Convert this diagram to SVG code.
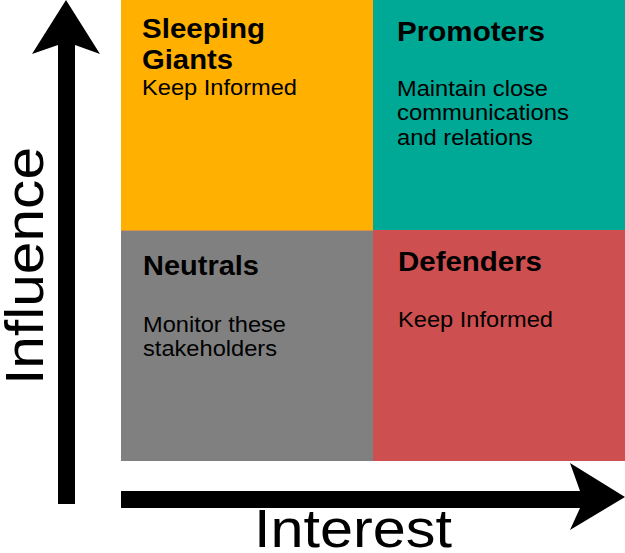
<svg xmlns="http://www.w3.org/2000/svg" width="625" height="553" viewBox="0 0 625 553">
<style>
text{font-family:"Liberation Sans",Arial,sans-serif;fill:#000}
.t{font-weight:bold;font-size:28px}
.b{font-size:21.5px}
.ax{font-size:54px}
.arrow{fill:#000}
</style>
<rect x="0" y="0" width="625" height="553" fill="#fff"/>
<g id="sleeping-giants">
<rect x="121" y="0" width="252" height="230" fill="#FFB000"/>
<text class="t" x="142" y="38" textLength="123" lengthAdjust="spacingAndGlyphs">Sleeping</text>
<text class="t" x="142" y="69" textLength="91" lengthAdjust="spacingAndGlyphs">Giants</text>
<text class="b" x="142" y="95" textLength="155" lengthAdjust="spacingAndGlyphs">Keep Informed</text>
</g>
<g id="promoters">
<rect x="373" y="0" width="252" height="230" fill="#00A896"/>
<text class="t" x="397" y="41" textLength="148" lengthAdjust="spacingAndGlyphs">Promoters</text>
<text class="b" x="397" y="96" textLength="151" lengthAdjust="spacingAndGlyphs">Maintain close</text>
<text class="b" x="397" y="120" textLength="172" lengthAdjust="spacingAndGlyphs">communications</text>
<text class="b" x="397" y="145" textLength="136" lengthAdjust="spacingAndGlyphs">and relations</text>
</g>
<g id="neutrals">
<rect x="121" y="230" width="252" height="231" fill="#808080"/>
<line x1="121" y1="230.5" x2="373" y2="230.5" stroke="#D9913F" stroke-width="1"/>
<text class="t" x="143" y="275" textLength="116" lengthAdjust="spacingAndGlyphs">Neutrals</text>
<text class="b" x="143" y="332" textLength="143" lengthAdjust="spacingAndGlyphs">Monitor these</text>
<text class="b" x="143" y="356" textLength="134" lengthAdjust="spacingAndGlyphs">stakeholders</text>
</g>
<g id="defenders">
<rect x="373" y="230" width="252" height="231" fill="#CD4F4F"/>
<text class="t" x="398" y="271" textLength="144" lengthAdjust="spacingAndGlyphs">Defenders</text>
<text class="b" x="398" y="327" textLength="155" lengthAdjust="spacingAndGlyphs">Keep Informed</text>
</g>
<g id="connectors">
<polygon class="arrow" points="66,0 100,54 75,45 75,504 58,504 58,45 32,54"/>
<polygon class="arrow" points="625,497 570,530 580,508 121,508 121,491 580,491 570,463"/>
</g>
<g id="axis-labels">
<text class="ax" text-anchor="middle" transform="translate(43,266) rotate(-90)" textLength="238" lengthAdjust="spacingAndGlyphs">Influence</text>
<text class="ax" x="353" y="547" text-anchor="middle" textLength="198" lengthAdjust="spacingAndGlyphs">Interest</text>
</g>
</svg>
